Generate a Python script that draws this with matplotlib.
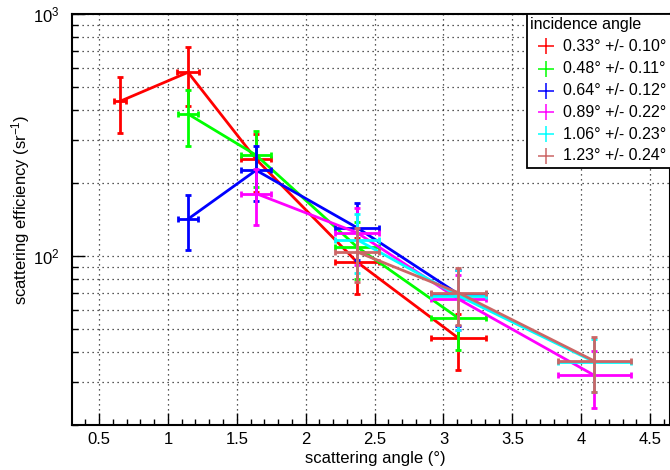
import matplotlib
matplotlib.use("Agg")
import matplotlib.pyplot as plt
from matplotlib.ticker import FixedLocator, MultipleLocator, NullFormatter, FixedFormatter
from matplotlib.lines import Line2D
from matplotlib.patches import Rectangle

plt.rcParams['font.family'] = ['Liberation Sans', 'DejaVu Sans']
plt.rcParams['mathtext.fontset'] = 'custom'
plt.rcParams['mathtext.rm'] = 'Liberation Sans'
plt.rcParams['mathtext.it'] = 'Liberation Sans:italic'
plt.rcParams['mathtext.bf'] = 'Liberation Sans:bold'

# ---------------- data ----------------
labels = ["0.33° +/- 0.10°", "0.48° +/- 0.11°", "0.64° +/- 0.12°",
          "0.89° +/- 0.22°", "1.06° +/- 0.23°", "1.23° +/- 0.24°"]
colors = ["#ff0000", "#00ff00", "#0000ff", "#ff00ff", "#00ffff", "#cc6666"]

red_x = [0.654, 1.146, 1.64, 2.372, 3.109]
red_y = [436, 574, 251, 94.4, 45.7]
red_yerr = [113, 156, 67, 24.7, 12]
red_xerr = [0.045, 0.078, 0.11, 0.157, 0.202]

green_x = [1.146, 1.64, 2.372, 3.109]
green_y = [386, 261, 109, 55.3]
green_yerr = [100, 68, 29, 14.4]
green_xerr = [0.075, 0.11, 0.157, 0.202]

blue_x = [1.146, 1.64, 2.372, 3.109]
blue_y = [142, 226, 130.9, 69.5]
blue_yerr = [36, 58, 35, 18]
blue_xerr = [0.073, 0.11, 0.157, 0.202]

magenta_x = [1.64, 2.372, 3.109, 4.094]
magenta_y = [181, 124.8, 66.3, 32.1]
magenta_yerr = [47, 33, 17, 8.5]
magenta_xerr = [0.11, 0.157, 0.202, 0.265]

cyan_x = [2.372, 3.109, 4.094]
cyan_y = [116.8, 68.4, 36.5]
cyan_yerr = [32, 19, 9]
cyan_xerr = [0.157, 0.202, 0.265]

brown_x = [2.372, 3.109, 4.094]
brown_y = [103.9, 70.4, 36.8]
brown_yerr = [26, 18.5, 9.5]
brown_xerr = [0.157, 0.202, 0.265]

series = [
    (red_x, red_y, red_xerr, red_yerr),
    (green_x, green_y, green_xerr, green_yerr),
    (blue_x, blue_y, blue_xerr, blue_yerr),
    (magenta_x, magenta_y, magenta_xerr, magenta_yerr),
    (cyan_x, cyan_y, cyan_xerr, cyan_yerr),
    (brown_x, brown_y, brown_xerr, brown_yerr),
]

x_major = [0.5, 1, 1.5, 2, 2.5, 3, 3.5, 4, 4.5]
x_major_labels = ["0.5", "1", "1.5", "2", "2.5", "3", "3.5", "4", "4.5"]
y_major = [100, 1000]
y_major_labels = ["10$^{2}$", "10$^{3}$"]
y_minor = [20, 30, 40, 50, 60, 70, 80, 90, 200, 300, 400, 500, 600, 700, 800, 900]

legend_title = "incidence angle"
xlabel = "scattering angle (°)"
ylabel = "scattering efficiency (sr$^{-1}$)"

# ---------------- figure ----------------
W, H = 670, 470
fig = plt.figure(figsize=(W / 100, H / 100), dpi=100)
ax_l, ax_r, ax_t, ax_b = 72, 670, 14, 425
ax = fig.add_axes([ax_l / W, 1 - ax_b / H, (ax_r - ax_l) / W, (ax_b - ax_t) / H])

ax.set_yscale('log')
ax.set_xlim(0.304, 4.644)
ax.set_ylim(20, 1000)

grid_kw = dict(color='#222222', linestyle=(0, (1, 3)), linewidth=0.9)
for xv in x_major:
    ax.axvline(xv, zorder=0, **grid_kw)
for yv in y_minor + y_major:
    ax.axhline(yv, zorder=0, **grid_kw)

for (xs, ys, xe, ye), c in zip(series, colors):
    ax.plot(xs, ys, color=c, lw=2, zorder=3)
    ax.errorbar(xs, ys, xerr=xe, yerr=ye, fmt='none', ecolor=c, elinewidth=2,
                capsize=2.3, capthick=2, zorder=3)

ax.xaxis.set_major_locator(FixedLocator(x_major))
ax.xaxis.set_major_formatter(FixedFormatter(x_major_labels))
ax.xaxis.set_minor_locator(MultipleLocator(0.1))
ax.yaxis.set_major_locator(FixedLocator(y_major))
ax.yaxis.set_major_formatter(FixedFormatter(y_major_labels))
ax.yaxis.set_minor_locator(FixedLocator(y_minor))
ax.yaxis.set_minor_formatter(NullFormatter())

ax.tick_params(axis='both', which='major', direction='in', length=9, width=1, labelsize=12, color='black')
ax.tick_params(axis='both', which='minor', direction='in', length=4.5, width=1, color='black')
ax.tick_params(axis='x', which='major', pad=5)
ax.tick_params(axis='y', which='major', pad=9, labelsize=12)
ax.tick_params(top=False, right=False, which='both')

for s in ax.spines.values():
    s.set_linewidth(1.5)
    s.set_color('black')

ax.set_xlabel(xlabel, fontsize=12)
ax.xaxis.set_label_coords((375 - ax_l) / (ax_r - ax_l), (ax_b - 458) / (ax_b - ax_t))
ax.xaxis.label.set_va('center')
ax.set_ylabel(ylabel, fontsize=12)
ax.yaxis.label.set_va('center')
ax.yaxis.set_label_coords((20.7 - ax_l) / (ax_r - ax_l), (ax_b - 210) / (ax_b - ax_t))

# ---------------- legend (ROOT-style box) ----------------
def fx(px):
    return px / W

def fy(py):
    return 1 - py / H

leg_l, leg_t, leg_b = 527, 14, 168
fig.patches.append(Rectangle((fx(leg_l), fy(leg_b)), fx(672 - leg_l), fy(leg_t) - fy(leg_b),
                             transform=fig.transFigure, facecolor='white', edgecolor='black',
                             linewidth=1.3, zorder=5))
fig.text(fx(530), fy(24), legend_title, fontsize=11.5, ha='left', va='center', zorder=6)
entry_y = [46.3, 68.5, 90.5, 112.3, 134.3, 156]
for lab, c, py in zip(labels, colors, entry_y):
    fig.lines.append(Line2D([fx(546)], [fy(py)], marker='+', markersize=11, mew=1.1,
                            color=c, transform=fig.transFigure, zorder=6))
    fig.text(fx(563), fy(py), lab, fontsize=11.5, ha='left', va='center', zorder=6)

fig.savefig("out.png", dpi=100)
